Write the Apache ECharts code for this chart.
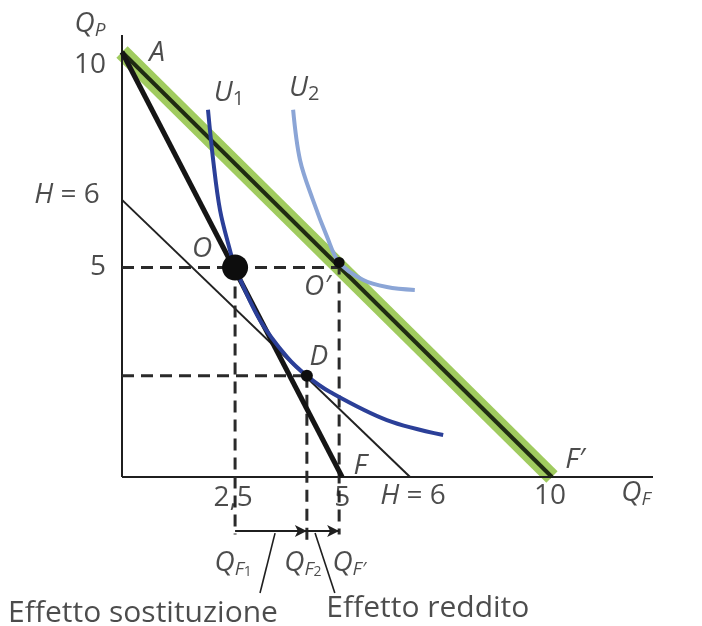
<!DOCTYPE html>
<html>
<head>
<meta charset="utf-8">
<script src="https://cdn.jsdelivr.net/npm/echarts@6/dist/echarts.min.js"></script>
<style>
  html, body { margin: 0; padding: 0; background: #ffffff; }
  #chart { width: 702px; height: 626px; }
</style>
</head>
<body>
<div id="chart"></div>
<script>
// ---- data (in diagram units) ----
const pointA  = [0, 10];
const pointF  = [5.12, 0];
const pointFp = [10, 0];
const lineH   = [[0, 6.52], [6.70, 0]];
const pointO  = [2.63, 4.93];
const pointOp = [5.05, 5.05];
const pointD  = [4.30, 2.38];
const curveU1 = [[2.00, 8.64], [2.12, 7.46], [2.28, 6.28], [2.51, 5.34], [2.63, 4.93],
                 [3.21, 3.69], [3.84, 2.82], [4.30, 2.38], [4.84, 2.00], [6.16, 1.34], [7.47, 0.99]];
const curveU2 = [[3.98, 8.64], [4.14, 7.46], [4.44, 6.52], [4.77, 5.65], [5.05, 5.05],
                 [5.60, 4.64], [6.16, 4.47], [6.81, 4.40]];
const xAxisMax = 12.35;
const yAxisMax = 10.4;
const yMin = -3;
const arrowY = -1.27;
const dashEndO = -1.35, dashEndD = -1.5, dashEndOp = -1.35;
const pointer1 = [[3.56, -1.32], [3.21, -2.73]];
const pointer2 = [[4.49, -1.32], [4.95, -2.73]];
const xTickValues = [pointO[0], pointF[0], lineH[1][0], pointFp[0]];
const xTickLabels = ['2,5', '5', '{i|H} = 6', '10'];
const yTickValues = [pointA[1], lineH[0][1], pointO[1]];
const yTickLabels = ['10', '{i|H} = 6', '5'];

// ---- styles ----
const INK = '#1f1f1f';
const FONT = '"Open Sans", "Noto Sans", sans-serif';
const FW = 500;
const FS = 28;
const rich = {
  n:  { fontFamily: FONT, fontWeight: FW, fontSize: FS, color: INK, lineHeight: 32 },
  i:  { fontFamily: FONT, fontWeight: FW, fontSize: FS, color: INK, fontStyle: 'italic', lineHeight: 32 },
  s:  { fontFamily: FONT, fontWeight: FW, fontSize: 19, color: INK, fontStyle: 'italic', lineHeight: 18, verticalAlign: 'bottom' },
  d:  { fontFamily: FONT, fontWeight: FW, fontSize: 20, color: INK, lineHeight: 20, verticalAlign: 'bottom' },
  s2: { fontFamily: FONT, fontWeight: FW, fontSize: 14, color: INK, lineHeight: 10, verticalAlign: 'bottom' },
  big:{ fontFamily: FONT, fontWeight: FW, fontSize: 30, color: INK, lineHeight: 32 }
};

function seg(data, color, width, type, z) {
  return { type: 'line', data: data, symbol: 'none', silent: true, z: z || 2,
           lineStyle: { color: color, width: width, type: type || 'solid', cap: 'butt' } };
}

const series = [];
// axes
series.push(seg([[0, 0], [xAxisMax, 0]], INK, 2, 'solid', 3));
series.push(seg([[0, 0], [0, yAxisMax]], INK, 2, 'solid', 3));
// budget lines
series.push(seg([pointA, pointFp], '#a0cb5f', 16, 'solid', 1));
series.push(seg([pointA, pointFp], '#1f2b12', 4, 'solid', 4));
series.push(seg([pointA, pointF], '#151515', 5, 'solid', 4));
series.push(seg(lineH, '#222222', 2, 'solid', 3));
// indifference curves
series.push({ type: 'line', data: curveU1, smooth: 0.35, symbol: 'none', silent: true, z: 5,
              lineStyle: { color: '#2b3f98', width: 4 } });
series.push({ type: 'line', data: curveU2, smooth: 0.35, symbol: 'none', silent: true, z: 5,
              lineStyle: { color: '#8ba5d6', width: 4 } });
// dashed guides
const DASH = [12, 7];
series.push(seg([[0, pointO[1]], [pointOp[0], pointO[1]]], '#2a2a2a', 3, DASH, 3));
series.push(seg([pointO, [pointO[0], dashEndO]], '#2a2a2a', 3, DASH, 3));
series.push(seg([[0, pointD[1]], pointD], '#2a2a2a', 3, DASH, 3));
series.push(seg([pointD, [pointD[0], dashEndD]], '#2a2a2a', 3, DASH, 3));
series.push(seg([pointOp, [pointOp[0], dashEndOp]], '#2a2a2a', 3, DASH, 3));
// pointer lines
series.push(seg(pointer1, INK, 1.6, 'solid', 3));
series.push(seg(pointer2, INK, 1.6, 'solid', 3));
// arrows
series.push({ type: 'line', data: [], silent: true,
  markLine: { silent: true, symbol: ['none', 'arrow'], symbolSize: [9, 12], label: { show: false },
    lineStyle: { color: INK, width: 2, type: 'solid' },
    data: [
      [{ coord: [pointO[0], arrowY] }, { coord: [pointD[0], arrowY] }],
      [{ coord: [pointD[0], arrowY] }, { coord: [pointOp[0], arrowY] }]
    ] } });
// dots
series.push({ type: 'scatter', silent: true, z: 10, itemStyle: { color: '#0d0d0d', opacity: 1 },
  data: [
    { value: pointO, symbolSize: 26 },
    { value: pointOp, symbolSize: 11 },
    { value: pointD, symbolSize: 12 }
  ] });

// labels
const labelDefs = [
  { at: [0, yAxisMax], text: '{i|Q}{s|P}', off: [-32, -11] },
  { at: [pointA[0], yTickValues[0]], text: yTickLabels[0], off: [-32, 13] },
  { at: [0, yTickValues[1]], text: yTickLabels[1], off: [-55, -5] },
  { at: [0, yTickValues[2]], text: yTickLabels[2], off: [-24, 0] },
  { at: pointA, text: '{i|A}', off: [35, 1] },
  { at: curveU1[0], text: '{i|U}{d|1}', off: [21, -17] },
  { at: curveU2[0], text: '{i|U}{d|2}', off: [11, -22] },
  { at: pointO, text: '{i|O}', off: [-33, -18] },
  { at: pointOp, text: "{i|O\u2032}", off: [-22, 25] },
  { at: pointD, text: '{i|D}', off: [12, -19] },
  { at: pointF, text: '{i|F}', off: [18, -11] },
  { at: pointFp, text: "{i|F\u2032}", off: [23, -17] },
  { at: [xTickValues[0], 0], text: xTickLabels[0], off: [-2, 21] },
  { at: [xTickValues[1], 0], text: xTickLabels[1], off: [0, 21] },
  { at: [xTickValues[2], 0], text: xTickLabels[2], off: [3, 19] },
  { at: [xTickValues[3], 0], text: xTickLabels[3], off: [-2, 19] },
  { at: [xAxisMax, 0], text: '{i|Q}{s|F}', off: [-17, 16] },
  { at: [pointO[0], arrowY], text: '{i|Q}{s|F}{s2|1}', off: [-2, 32] },
  { at: [pointD[0], arrowY], text: '{i|Q}{s|F}{s2|2}', off: [-4, 32] },
  { at: [pointOp[0], arrowY], text: "{i|Q}{s|F\u2032}", off: [10, 32] },
  { at: pointer1[1], text: '{big|Effetto sostituzione}', off: [-117, 20] },
  { at: pointer2[1], text: '{big|Effetto reddito}', off: [93, 15] }
];
series.push({ type: 'scatter', silent: true, z: 20, symbolSize: 0,
  data: labelDefs.map(d => ({
    value: d.at,
    label: { show: true, position: 'inside', offset: d.off, formatter: d.text,
             align: 'center', verticalAlign: 'middle', rich: rich,
             fontFamily: FONT, fontWeight: FW, fontSize: FS, color: INK }
  })) });

const chart = echarts.init(document.getElementById('chart'), null, { renderer: 'canvas' });
chart.setOption({
  backgroundColor: '#ffffff',
  animation: false,
  grid: { left: 122, right: 49, top: 35, bottom: 21.5 },
  xAxis: { type: 'value', min: 0, max: xAxisMax, show: false },
  yAxis: { type: 'value', min: yMin, max: yAxisMax, show: false },
  series: series
});
</script>
</body>
</html>
